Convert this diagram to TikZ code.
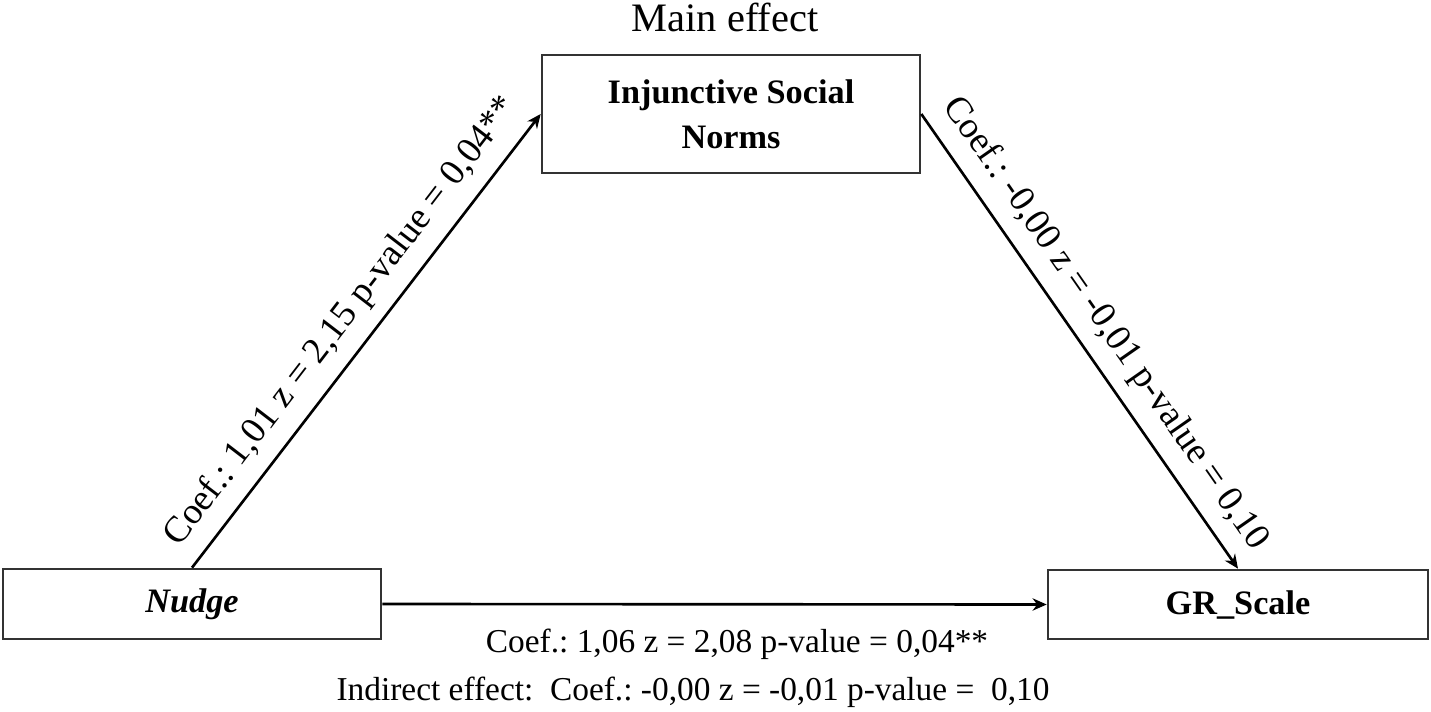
\documentclass[tikz,border=0pt]{standalone}
\usepackage{fontspec}
\setmainfont{Liberation Serif}
\usetikzlibrary{arrows.meta,positioning}
\frenchspacing

\begin{document}
\begin{tikzpicture}[
        box/.style={draw=black!80, line width=1.5pt, minimum width=7.56cm, align=center, font=\fontsize{19.5}{25.5}\selectfont\bfseries},
        link/.style={draw, line width=1.5pt, -{Stealth[length=8pt,width=7pt]}},
        coef/.style={font=\fontsize{21}{24}\selectfont},
        note/.style={font=\fontsize{19}{22}\selectfont, anchor=base}
    ]
        \useasboundingbox (0,0) rectangle (28.62,14.22);
        \node[anchor=base] (title) at (14.5,13.58) {\fontsize{23}{26}\selectfont Main effect}; % heading
        \node[box, minimum height=2.36cm] (norms) at (14.62,11.94) {Injunctive Social\\Norms}; % mediator
        \node[box, minimum height=1.4cm] (nudge) at (3.84,2.14) {\textit{Nudge}};
        \node[box, minimum width=7.6cm, minimum height=1.38cm] (scale) at (24.76,2.13) {GR\_Scale};

        \draw[link] (nudge.north) -- node[coef, midway, sloped, above=4pt] {Coef.: 1,01 z = 2,15 p-value = 0,04**} (norms.west);
        \draw[link] (norms.east) -- node[coef, midway, sloped, above=4pt] {Coef.: -0,00 z = -0,01 p-value = 0,10} (scale.north);
        \draw[link] (nudge.east) -- (scale.west);

        \node[note] (direct) at (14.74,1.18) {Coef.: 1,06 z = 2,08 p-value = 0,04**};
        \node[note] (indirect) at (13.86,0.22) {Indirect effect:\ \ Coef.: -0,00 z = -0,01 p-value =\ \ 0,10};

    \end{tikzpicture}
\end{document}
